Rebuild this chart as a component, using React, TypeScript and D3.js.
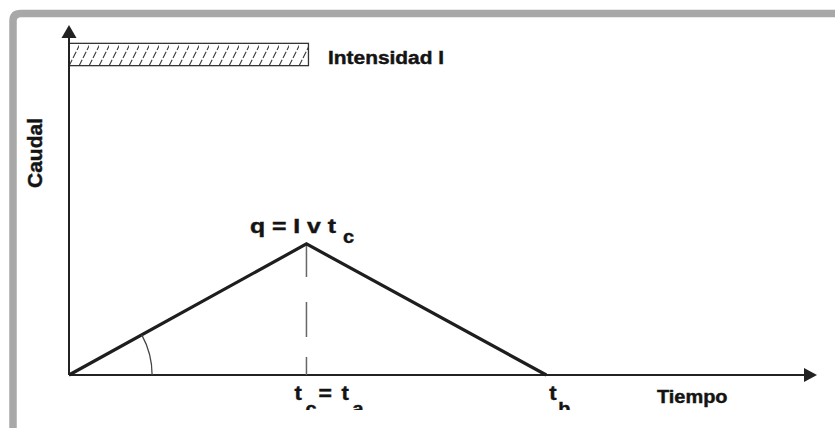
import React from "react";
import * as d3 from "d3";

// Hydrograph data (relative units: tc = 1, q = 1)
const timeKeys = ["0", "tc", "tb"];
const timeValues = [0, 1, 2.01];
const flowValues = [0, 1, 0];
const intensityStart = 0;
const intensityEnd = 1;
const intensityLow = 2.36;
const intensityHigh = 2.53;
const xMax = 3.15;
const yMax = 2.67;
const angleRadius = 0.35; // in x units

const W = 835;
const H = 428;

const font = "'Liberation Sans', Arial, Helvetica, sans-serif";
const ink = "#141414";

function Label(props: {
  x: number;
  y: number;
  size: number;
  sx?: number;
  children: React.ReactNode;
}) {
  const { x, y, size, sx = 1, children } = props;
  return (
    <text
      transform={`translate(${x},${y}) scale(${sx},1)`}
      fontFamily={font}
      fontWeight="bold"
      fontSize={size}
      fill={ink}
      stroke={ink}
      strokeWidth={0.45}
    >
      {children}
    </text>
  );
}

export default function App() {
  const x = d3.scaleLinear().domain([0, xMax]).range([69, 817]);
  const y = d3.scaleLinear().domain([0, yMax]).range([375, 25]);
  const pts: [number, number][] = timeValues.map((t, i) => [t, flowValues[i]]);
  const line = d3
    .line<[number, number]>()
    .x((d) => x(d[0]))
    .y((d) => y(d[1]));

  const ox = x(0);
  const oy = y(0);
  const peakX = x(timeValues[1]);
  const peakY = y(flowValues[1]);
  const tbX = x(timeValues[2]);
  const slopeAngle = Math.atan2(oy - peakY, peakX - ox);
  const r = x(angleRadius) - x(0);
  const arc = d3
    .arc()
    .innerRadius(r)
    .outerRadius(r)
    .startAngle(Math.PI / 2 - slopeAngle)
    .endAngle(Math.PI / 2);

  return (
    <svg
      width={W}
      height={H}
      style={{ position: "absolute", left: 0, top: 0, background: "#fff" }}
    >
      <defs>
        <pattern
          id="hatch"
          patternUnits="userSpaceOnUse"
          width="10"
          height="22"
          patternTransform="translate(69,44)"
        >
          <line x1="0" y1="22" x2="11" y2="0" stroke="#3a3a3a" strokeWidth="1.1" strokeDasharray="7 2" />
        </pattern>
        <clipPath id="bottomClip">
          <rect x="0" y="0" width={W} height="410" />
        </clipPath>
      </defs>

      {/* frame */}
      <path
        d={`M 13 ${H} V 21 Q 13 13.5 21 13.5 H ${W}`}
        fill="none"
        stroke="#a8a8a8"
        strokeWidth="7.5"
      />

      {/* intensity bar */}
      <rect
        x={x(intensityStart)}
        y={y(intensityHigh)}
        width={x(intensityEnd) - x(intensityStart) + 2}
        height={y(intensityLow) - y(intensityHigh)}
        fill="url(#hatch)"
        stroke="#333"
        strokeWidth="1.3"
      />
      <Label x={328} y={64} size={19} sx={1.1}>
        Intensidad I
      </Label>

      {/* axes */}
      <line x1={ox} y1={oy} x2={ox} y2={y(yMax) + 10} stroke="#222" strokeWidth="2" />
      <path d={`M ${ox} ${y(yMax)} L ${ox - 7.5} ${y(yMax) + 13} L ${ox + 7.5} ${y(yMax) + 13} Z`} fill="#222" />
      <line x1={ox} y1={oy} x2={x(xMax) - 10} y2={oy} stroke="#222" strokeWidth="2" />
      <path d={`M ${x(xMax)} ${oy} L ${x(xMax) - 13} ${oy - 7} L ${x(xMax) - 13} ${oy + 7} Z`} fill="#222" />

      {/* dashed vertical at tc */}
      <line
        x1={peakX}
        y1={peakY}
        x2={peakX}
        y2={oy}
        stroke="#666"
        strokeWidth="1.5"
        strokeDasharray="33 25 35 20 40"
      />

      {/* hydrograph */}
      <path d={line(pts) || ""} fill="none" stroke="#1e1e1e" strokeWidth="3.2" strokeLinejoin="miter" />

      {/* angle arc */}
      <path d={arc({} as any) || ""} transform={`translate(${ox},${oy})`} fill="none" stroke="#444" strokeWidth="1.3" />

      {/* labels */}
      <text
        transform={`translate(42,153) rotate(-90)`}
        textAnchor="middle"
        fontFamily={font}
        fontWeight="bold"
        fontSize="21"
        fill={ink}
        stroke={ink}
        strokeWidth={0.45}
      >
        Caudal
      </text>

      <Label x={250} y={233} size={21} sx={1.18}>
        q = I v t
      </Label>
      <Label x={343} y={243} size={19} sx={1.05}>
        c
      </Label>

      <g clipPath="url(#bottomClip)">
        <Label x={peakX - 12} y={400} size={20} sx={1.1}>t</Label>
        <Label x={peakX - 1} y={415} size={18} sx={1.1}>c</Label>
        <Label x={peakX + 12} y={400} size={20} sx={1.15}>=</Label>
        <Label x={peakX + 35} y={400} size={20} sx={1.1}>t</Label>
        <Label x={peakX + 46} y={415} size={18} sx={1.1}>a</Label>
        <Label x={tbX + 3} y={400} size={20} sx={1.1}>t</Label>
        <Label x={tbX + 12} y={415} size={18} sx={1.1}>b</Label>
      </g>

      <Label x={657} y={403} size={19} sx={1.05}>
        Tiempo
      </Label>
    </svg>
  );
}
